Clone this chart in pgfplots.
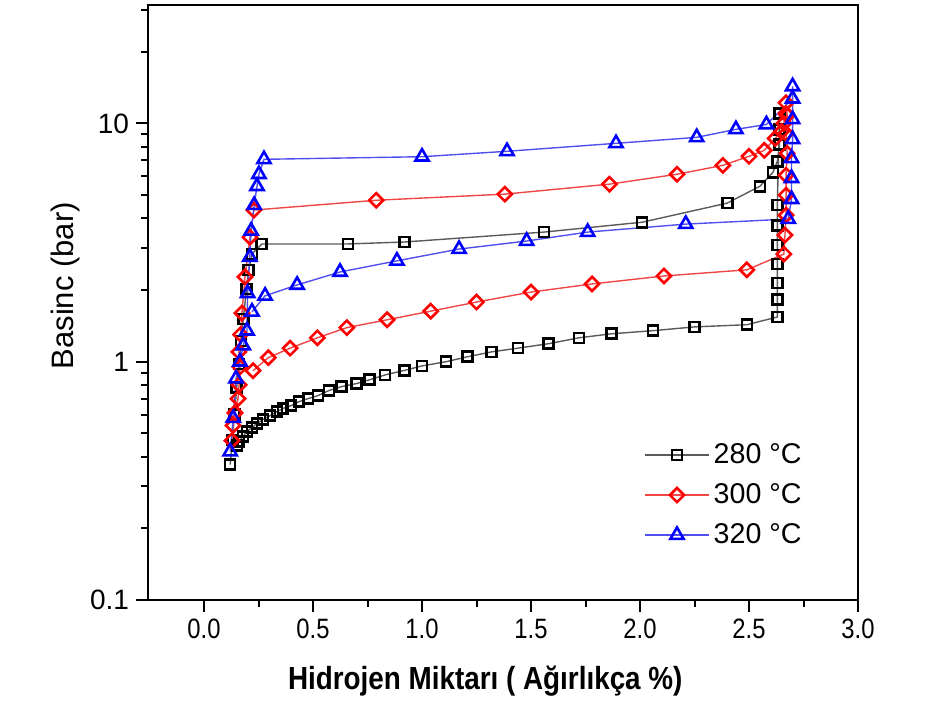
\documentclass[border=0pt]{standalone}
\usepackage{pgfplots}
\pgfplotsset{compat=1.18}
\usepackage{graphicx}
\usepackage{fontspec}
\setmainfont{Liberation Sans}
\definecolor{lgray}{RGB}{90,90,90}
\definecolor{lred}{RGB}{240,70,70}
\definecolor{lblue}{RGB}{80,80,240}
\begin{document}
\begin{tikzpicture}
\begin{axis}[name=ax, scale only axis, width=355pt, height=297.5pt,
 ymode=log, xmin=-0.257, xmax=3.0, ymin=0.1, ymax=31.4,
 xtick={0,0.5,1,1.5,2,2.5,3}, minor xtick={0.25,0.75,1.25,1.75,2.25,2.75},
 xticklabel={\scalebox{0.85}[1]{\pgfmathprintnumber[fixed,fixed zerofill,precision=1,assume math mode=true]{\tick}}},
 ytick={0.1,1,10}, yticklabels={0.1,1,10},
 minor ytick={0.2,0.3,0.4,0.5,0.6,0.7,0.8,0.9,2,3,4,5,6,7,8,9,20,30},
 xtick pos=left, ytick pos=left, tick align=outside,
 major tick length=6pt, minor tick length=3.5pt,
 tick style={line width=1pt, black},
 axis line style={line width=1.3pt},
 ticklabel style={font=\fontsize{14}{16}\selectfont},
 xlabel={\scalebox{0.87}[1]{\bfseries Hidrojen Miktarı ( Ağırlıkça \%)}},
 xlabel style={at={(axis description cs:0.475,-0.137)}, anchor=center, font=\fontsize{16}{18}\selectfont},
 ylabel={Basinc (bar)},
 ylabel style={at={(axis description cs:-0.116,0.528)}, anchor=center, font=\fontsize{15.5}{18}\selectfont},
 legend style={at={(0.69,0.277)}, anchor=north west, draw=none, fill=none, font=\fontsize{14.3}{17}\selectfont, row sep=4.5pt},
 legend cell align=left,
 legend image code/.code={\draw[mark repeat=2,mark phase=2] plot coordinates {(0pt,0pt) (16pt,0pt) (32pt,0pt)};},
]
\addplot[color=lgray, line width=0.7pt, mark=square, mark size=2.5pt, mark options={draw=black, fill=white, line width=1.3pt, solid}] coordinates {
(0.12,0.37) (0.13,0.47) (0.14,0.6) (0.15,0.78) (0.16,0.98) (0.17,1.22) (0.18,1.51) (0.195,2.02) (0.205,2.43) (0.22,2.83) (0.265,3.12) (0.66,3.12) (0.92,3.18) (1.56,3.50) (2.01,3.85) (2.40,4.63) (2.55,5.45) (2.61,6.24) (2.63,6.93) (2.64,8.17) (2.64,9.44) (2.64,11.0)
(2.63,4.54) (2.63,3.74) (2.63,3.09) (2.63,2.57) (2.63,2.14) (2.63,1.82) (2.63,1.54) (2.49,1.43) (2.25,1.40) (2.06,1.35) (1.87,1.31) (1.72,1.26) (1.58,1.19) (1.44,1.14) (1.32,1.10) (1.21,1.05) (1.11,1.00) (1.00,0.96) (0.92,0.92) (0.83,0.88) (0.76,0.84) (0.70,0.81) (0.63,0.786) (0.573,0.757) (0.523,0.721) (0.477,0.700) (0.436,0.680) (0.399,0.654) (0.362,0.636) (0.335,0.618) (0.303,0.594) (0.271,0.572) (0.243,0.550) (0.220,0.529) (0.197,0.510) (0.179,0.486) (0.161,0.463) (0.151,0.445)
};
\addlegendentry{280 °C}
\addplot[color=lred, line width=0.7pt, mark=square, mark size=2.5pt, mark options={draw=red, fill=white, line width=1.3pt, solid, rotate=45}] coordinates {
(0.128,0.467) (0.133,0.54) (0.142,0.61) (0.156,0.70) (0.161,0.80) (0.165,0.95) (0.16,1.10) (0.168,1.3) (0.174,1.60) (0.188,2.27) (0.211,3.33) (0.229,4.33) (0.79,4.76) (1.38,5.05) (1.86,5.56) (2.17,6.12) (2.38,6.67) (2.50,7.28) (2.57,7.71) (2.62,8.65) (2.65,9.26) (2.66,10.0) (2.67,11.0) (2.67,12.2)
(2.675,10.8) (2.67,9.08) (2.675,7.49) (2.67,6.06) (2.67,5.0) (2.67,4.12) (2.665,3.40) (2.66,2.83) (2.49,2.43) (2.11,2.29) (1.78,2.12) (1.50,1.96) (1.25,1.78) (1.04,1.63) (0.84,1.50) (0.655,1.39) (0.52,1.26) (0.395,1.14) (0.295,1.04) (0.225,0.917)
};
\addlegendentry{300 °C}
\addplot[color=lblue, line width=0.7pt, mark=triangle, mark size=3.8pt, mark options={draw=blue, fill=white, line width=1.3pt, solid}] coordinates {
(0.12,0.42) (0.134,0.58) (0.147,0.85) (0.165,1.0) (0.18,1.17) (0.197,1.35) (0.20,1.94) (0.21,2.75) (0.216,3.54) (0.23,4.54) (0.243,5.45) (0.252,6.12) (0.275,7.07) (1.00,7.25) (1.39,7.64) (1.89,8.25) (2.26,8.74) (2.44,9.44) (2.58,9.9) (2.70,12.7) (2.70,14.3)
(2.70,10.4) (2.70,8.57) (2.695,7.14) (2.695,5.89) (2.695,4.81) (2.68,3.97) (2.21,3.78) (1.76,3.50) (1.48,3.21) (1.17,2.97) (0.885,2.65) (0.624,2.38) (0.427,2.10) (0.28,1.89) (0.22,1.62)
};
\addlegendentry{320 °C}
\end{axis}
\path ([shift={(-74pt,-52.5pt)}]ax.south west) rectangle ([shift={(39.5pt,2.5pt)}]ax.north east);
\end{tikzpicture}
\end{document}
